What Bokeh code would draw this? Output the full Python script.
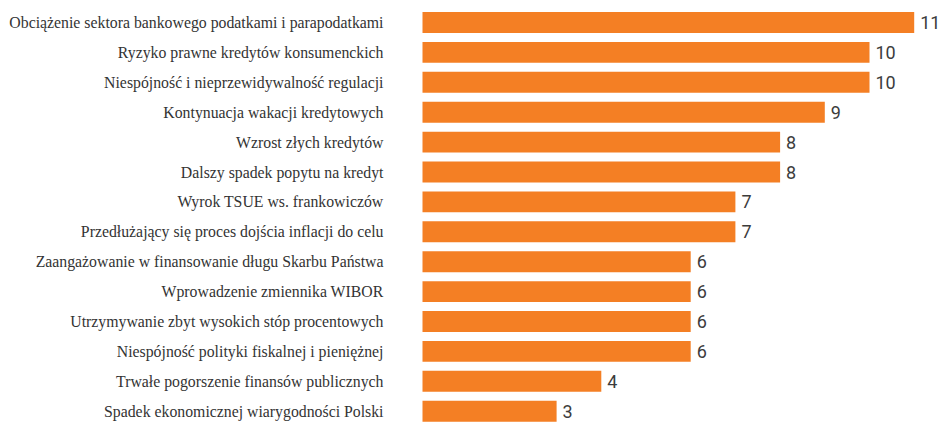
from bokeh.plotting import figure
from bokeh.models import ColumnDataSource, Range1d
from bokeh.core.properties import value
from bokeh.embed import file_html
from bokeh.resources import INLINE

categories = [
    "Obciążenie sektora bankowego podatkami i parapodatkami",
    "Ryzyko prawne kredytów konsumenckich",
    "Niespójność i nieprzewidywalność regulacji",
    "Kontynuacja wakacji kredytowych",
    "Wzrost złych kredytów",
    "Dalszy spadek popytu na kredyt",
    "Wyrok TSUE ws. frankowiczów",
    "Przedłużający się proces dojścia inflacji do celu",
    "Zaangażowanie w finansowanie długu Skarbu Państwa",
    "Wprowadzenie zmiennika WIBOR",
    "Utrzymywanie zbyt wysokich stóp procentowych",
    "Niespójność polityki fiskalnej i pieniężnej",
    "Trwałe pogorszenie finansów publicznych",
    "Spadek ekonomicznej wiarygodności Polski",
]
values = [11, 10, 10, 9, 8, 8, 7, 7, 6, 6, 6, 6, 4, 3]
value_labels = [str(v) for v in values]

W, H = 945, 422
px_per_unit = 44.7       # horizontal scale
zero_px = 422            # frame x of value 0
row_px = 29.9            # vertical spacing of rows
first_center_px = 22     # frame y of first row centre

rank = list(range(len(categories)))
source = ColumnDataSource(dict(cat=categories, val=values, lab=value_labels,
                               pos=rank, zero=[0] * len(values)))

p = figure(width=W, height=H, output_backend="svg", toolbar_location=None,
           x_range=Range1d(-zero_px / px_per_unit, (W - zero_px) / px_per_unit),
           y_range=Range1d((H - first_center_px) / row_px, -first_center_px / row_px),
           min_border_left=0, min_border_right=0, min_border_top=0, min_border_bottom=0)

p.hbar(y="pos", right="val", left=0, height=0.7, source=source,
       fill_color="#F47F24", line_color=None)

p.text(x="zero", y="pos", text="cat", source=source, x_offset=-39,
       text_align="right", text_baseline="middle",
       text_font=value("Liberation Serif"), text_font_size="15.8px",
       text_color="#333333")

p.text(x="val", y="pos", text="lab", source=source, x_offset=6,
       text_align="left", text_baseline="middle",
       text_font=value("Roboto"), text_font_size="18px", text_color="#3c3c3c")

p.xaxis.visible = False
p.yaxis.visible = False
p.xgrid.visible = False
p.ygrid.visible = False
p.outline_line_color = None
p.background_fill_color = "white"
p.border_fill_color = "white"

open("out.html", "w").write(file_html(p, INLINE))
